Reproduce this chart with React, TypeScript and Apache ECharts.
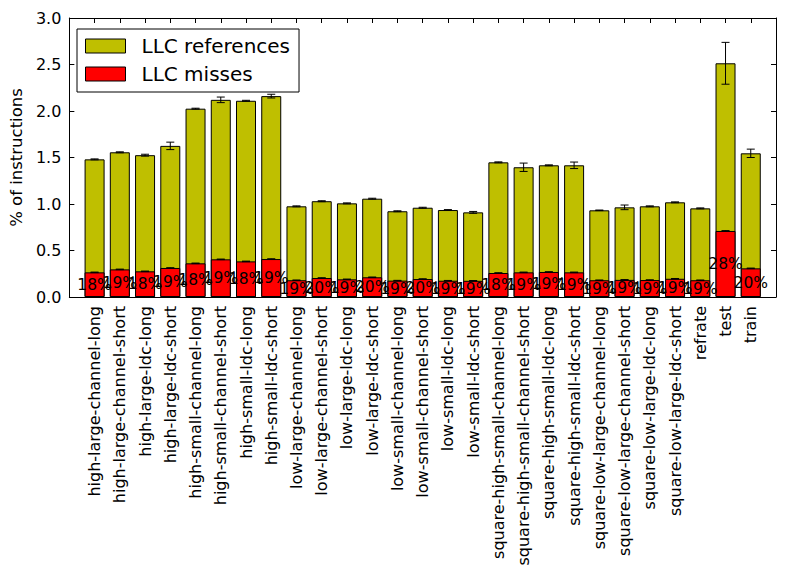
import React, { useEffect, useRef } from "react";
import * as echarts from "echarts";

const categories = [
  "high-large-channel-long", "high-large-channel-short", "high-large-ldc-long", "high-large-ldc-short",
  "high-small-channel-long", "high-small-channel-short", "high-small-ldc-long", "high-small-ldc-short",
  "low-large-channel-long", "low-large-channel-short", "low-large-ldc-long", "low-large-ldc-short",
  "low-small-channel-long", "low-small-channel-short", "low-small-ldc-long", "low-small-ldc-short",
  "square-high-small-channel-long", "square-high-small-channel-short", "square-high-small-ldc-long", "square-high-small-ldc-short",
  "square-low-large-channel-long", "square-low-large-channel-short", "square-low-large-ldc-long", "square-low-large-ldc-short",
  "refrate", "test", "train",
];

const llcReferences = [
  1.48, 1.556, 1.525, 1.625, 2.025, 2.12, 2.11, 2.16,
  0.975, 1.03, 1.007, 1.057, 0.922, 0.96, 0.935, 0.91,
  1.448, 1.395, 1.416, 1.416, 0.932, 0.964, 0.975, 1.018,
  0.953, 2.513, 1.545,
];

const llcReferencesErr = [
  0.005, 0.005, 0.01, 0.04, 0.005, 0.03, 0.005, 0.02,
  0.005, 0.005, 0.005, 0.005, 0.005, 0.005, 0.005, 0.01,
  0.005, 0.045, 0.005, 0.035, 0.003, 0.025, 0.005, 0.005,
  0.005, 0.225, 0.045,
];

const llcMisses = [
  0.265, 0.297, 0.276, 0.312, 0.362, 0.405, 0.383, 0.408,
  0.18, 0.204, 0.19, 0.212, 0.176, 0.193, 0.175, 0.174,
  0.258, 0.265, 0.269, 0.265, 0.18, 0.184, 0.182, 0.196,
  0.18, 0.71, 0.308,
];

const llcMissesErr = [
  0.003, 0.003, 0.003, 0.003, 0.003, 0.003, 0.003, 0.003,
  0.003, 0.003, 0.003, 0.003, 0.003, 0.003, 0.003, 0.003,
  0.003, 0.003, 0.003, 0.003, 0.003, 0.003, 0.003, 0.003,
  0.003, 0.004, 0.003,
];

const missRatioLabels = [
  "18%", "19%", "18%", "19%", "18%", "19%", "18%", "19%",
  "19%", "20%", "19%", "20%", "19%", "20%", "19%", "19%",
  "18%", "19%", "19%", "19%", "19%", "19%", "19%", "19%",
  "19%", "28%", "20%",
];

const yTicks = ["0.0", "0.5", "1.0", "1.5", "2.0", "2.5", "3.0"];

const FONT = "DejaVu Sans";

function errorSeries(name: string, values: number[], errs: number[]) {
  return {
    type: "custom",
    name,
    xAxisIndex: 0,
    yAxisIndex: 0,
    z: 10,
    silent: true,
    data: values.map((v, i) => [i, v, errs[i]]),
    renderItem: (params: any, api: any) => {
      const x = api.value(0);
      const v = api.value(1);
      const e = api.value(2);
      const top = api.coord([x, v + e]);
      const bot = api.coord([x, v - e]);
      const cap = 4;
      const style = { stroke: "#000", lineWidth: 1 };
      return {
        type: "group",
        children: [
          { type: "line", shape: { x1: top[0], y1: top[1], x2: bot[0], y2: bot[1] }, style },
          { type: "line", shape: { x1: top[0] - cap, y1: top[1], x2: top[0] + cap, y2: top[1] }, style },
          { type: "line", shape: { x1: bot[0] - cap, y1: bot[1], x2: bot[0] + cap, y2: bot[1] }, style },
        ],
      };
    },
  };
}

export default function App() {
  const ref = useRef<HTMLDivElement>(null);
  useEffect(() => {
    if (!ref.current) return;
    const chart = echarts.init(ref.current, undefined, { renderer: "svg" });
    const tickStyle = { inside: true, length: 5, lineStyle: { color: "#000", width: 1 } };
    const axisLine = { show: true, onZero: false, lineStyle: { color: "#000", width: 1 } };
    chart.setOption({
      animation: false,
      backgroundColor: "#fff",
      textStyle: { fontFamily: FONT },
      grid: { left: 67, right: 9, top: 18, bottom: 285, containLabel: false },
      legend: {
        left: 77,
        top: 29,
        orient: "vertical",
        data: ["LLC references", "LLC misses"],
        itemWidth: 40,
        itemHeight: 14,
        itemGap: 8,
        padding: [7, 9, 8, 8],
        borderColor: "#000",
        borderWidth: 1,
        backgroundColor: "#fff",
        icon: "rect",
        itemStyle: { borderColor: "#000", borderWidth: 1 },
        textStyle: { fontFamily: FONT, fontSize: 20, color: "#000", lineHeight: 20, padding: [0, 0, 0, 11] },
      },
      xAxis: [
        {
          type: "value",
          min: -1,
          max: 27,
          interval: 1,
          position: "bottom",
          axisLine,
          axisTick: tickStyle,
          splitLine: { show: false },
          axisLabel: {
            rotate: 90,
            margin: 9,
            fontFamily: FONT,
            fontSize: 16,
            color: "#000",
            showMinLabel: true,
            showMaxLabel: true,
            formatter: (v: number) => categories[v] ?? "",
          },
        },
        {
          type: "value",
          min: -1,
          max: 27,
          interval: 1,
          position: "top",
          axisLine,
          axisTick: tickStyle,
          splitLine: { show: false },
          axisLabel: { show: false },
        },
      ],
      yAxis: [
        {
          type: "value",
          min: 0,
          max: 3,
          interval: 0.5,
          position: "left",
          axisLine,
          axisTick: tickStyle,
          splitLine: { show: false },
          name: "% of instructions",
          nameLocation: "middle",
          nameGap: 44,
          nameTextStyle: { fontFamily: FONT, fontSize: 16.5, color: "#000" },
          axisLabel: {
            margin: 8,
            fontFamily: FONT,
            fontSize: 16,
            color: "#000",
            formatter: (v: number) => yTicks[Math.round(v * 2)] ?? "",
          },
        },
        {
          type: "value",
          min: 0,
          max: 3,
          interval: 0.5,
          position: "right",
          axisLine,
          axisTick: tickStyle,
          splitLine: { show: false },
          axisLabel: { show: false },
        },
      ],
      series: [
        {
          type: "bar",
          name: "LLC references",
          xAxisIndex: 0,
          yAxisIndex: 0,
          barWidth: 20,
          barGap: "-100%",
          itemStyle: { color: "#bfbf00", borderColor: "#000", borderWidth: 1 },
          data: llcReferences.map((v, i) => [i, v]),
        },
        {
          type: "bar",
          name: "LLC misses",
          xAxisIndex: 0,
          yAxisIndex: 0,
          barWidth: 20,
          barGap: "-100%",
          itemStyle: { color: "#ff0000", borderColor: "#000", borderWidth: 1 },
          label: {
            show: true,
            position: "inside",
            color: "#000",
            fontFamily: FONT,
            fontSize: 15.5,
            formatter: (p: any) => missRatioLabels[p.dataIndex],
          },
          labelLayout: { hideOverlap: false },
          data: llcMisses.map((v, i) => [i, v]),
        },
        errorSeries("refErr", llcReferences, llcReferencesErr),
        errorSeries("missErr", llcMisses, llcMissesErr),
      ],
    });
    return () => chart.dispose();
  }, []);
  return (
    <div
      ref={ref}
      style={{ position: "fixed", left: 0, top: 0, width: 785, height: 582, background: "#fff" }}
    />
  );
}
